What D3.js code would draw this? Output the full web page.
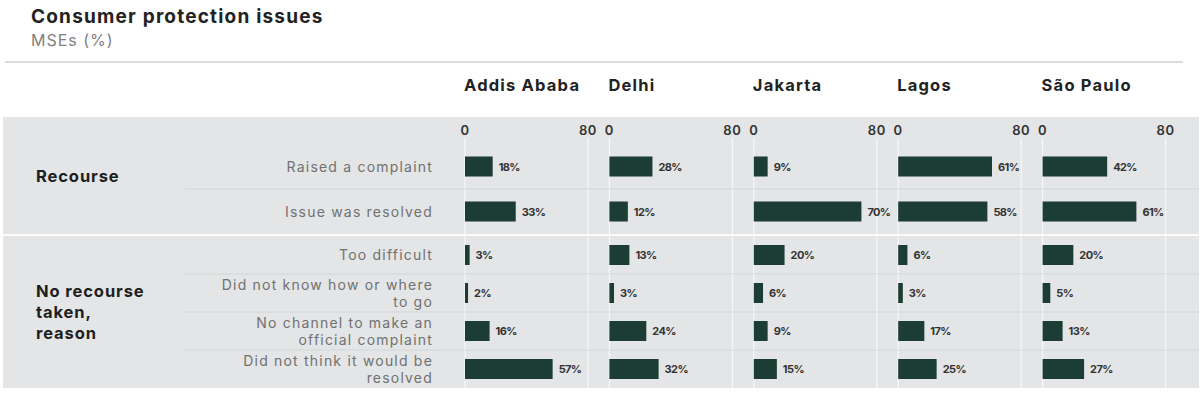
<!DOCTYPE html>
<html>
<head>
<meta charset="utf-8">
<script src="https://cdn.jsdelivr.net/npm/d3@7"></script>
<style>
body { margin: 0; background: #ffffff; }
text { font-family: Inter, "Open Sans", sans-serif; }
</style>
</head>
<body>
<script>

var cities = ["Addis Ababa", "Delhi", "Jakarta", "Lagos", "São Paulo"]
var groups = ["Recourse", "No recourse taken, reason"]
var groupLines = [["Recourse"], ["No recourse", "taken,", "reason"]]

var recourseRows = ["Raised a complaint", "Issue was resolved"]
var recourseLines = [["Raised a complaint"], ["Issue was resolved"]]
var recourseValues = [
	[18, 28, 9, 61, 42],
	[33, 12, 70, 58, 61]]

var reasonRows = ["Too difficult", "Did not know how or where to go", "No channel to make an official complaint", "Did not think it would be resolved"]
var reasonLines = [["Too difficult"], ["Did not know how or where", "to go"], ["No channel to make an", "official complaint"], ["Did not think it would be", "resolved"]]
var reasonValues = [
	[3, 13, 20, 6, 20],
	[2, 3, 6, 3, 5],
	[16, 24, 9, 17, 13],
	[57, 32, 15, 25, 27]]

var xTicks = [0, 80]

window.onload = function () {
	Draw_Chart()
}

function Draw_Chart() {
	var W = 1200, H = 398
	var barColor = "#1b3d34"

	var svg = d3.select("body").append("svg")
		.attr("width", W)
		.attr("height", H)

	//TITLE
	svg.append("text")
		.attr("x", 31).attr("y", 23)
		.style("font-size", "19px").style("font-weight", 700).style("fill", "#222")
		.style("letter-spacing", "1.2px")
		.text("Consumer protection issues")
	svg.append("text")
		.attr("x", 31).attr("y", 46)
		.style("font-size", "16px").style("fill", "#808080")
		.style("letter-spacing", "1px")
		.text("MSEs (%)")
	svg.append("line")
		.attr("x1", 5).attr("x2", 1183).attr("y1", 62).attr("y2", 62)
		.style("stroke", "#dcdcdc").style("stroke-width", 2)

	//PANELS
	var panel = d3.scaleBand().domain(cities).range([465, 1187])
	var x = d3.scaleLinear().domain([0, 80]).range([0, 123])

	var bands = [
		{ rows: recourseRows, lines: recourseLines, values: recourseValues, y0: 144, y1: 234 },
		{ rows: reasonRows, lines: reasonLines, values: reasonValues, y0: 236, y1: 388 }]

	//GRAY BACKGROUND
	svg.append("rect")
		.attr("x", 3).attr("y", 117).attr("width", 1196).attr("height", 388 - 117)
		.style("fill", "#e3e5e6")

	//CITY HEADERS
	svg.selectAll(".city")
		.data(cities)
		.enter()
		.append("text")
		.attr("x", function (d) { return panel(d) - 1 })
		.attr("y", 91)
		.style("font-size", "16.5px").style("font-weight", 700).style("fill", "#222")
		.style("letter-spacing", "1.2px")
		.text(function (d) { return d })

	//GRIDLINES AND TICK LABELS
	cities.forEach(function (c) {
		var g = svg.append("g").attr("transform", "translate(" + panel(c) + ",0)")
		g.selectAll("line")
			.data(xTicks)
			.enter()
			.append("line")
			.attr("x1", function (d) { return x(d) })
			.attr("x2", function (d) { return x(d) })
			.attr("y1", 138).attr("y2", 388)
			.style("stroke", "#f6f7f7").style("stroke-width", 1.3)
		g.selectAll("text")
			.data(xTicks)
			.enter()
			.append("text")
			.attr("x", function (d) { return x(d) })
			.attr("y", 135)
			.attr("text-anchor", "middle")
			.style("font-size", "13px").style("font-weight", 600).style("fill", "#333")
			.style("letter-spacing", "0.6px")
			.text(function (d) { return d })
	})

	//GROUP SEPARATOR
	svg.append("line")
		.attr("x1", 3).attr("x2", 1199).attr("y1", 235).attr("y2", 235)
		.style("stroke", "#fbfbfb").style("stroke-width", 2)

	bands.forEach(function (b, gi) {
		var y = d3.scaleBand().domain(b.rows).range([b.y0, b.y1])

		//ROW SEPARATORS
		svg.selectAll(".sep" + gi)
			.data(b.rows.slice(1))
			.enter()
			.append("line")
			.attr("x1", 185).attr("x2", 1199)
			.attr("y1", function (d) { return y(d) })
			.attr("y2", function (d) { return y(d) })
			.style("stroke", "#d3d6d7").style("stroke-width", 1)

		//ROW LABELS
		var lh = 17
		b.rows.forEach(function (r, ri) {
			var lines = b.lines[ri]
			var cy = y(r) + y.bandwidth() / 2
			svg.append("text")
				.attr("text-anchor", "end")
				.attr("x", 433)
				.attr("y", cy - (lines.length - 1) * lh / 2 + 5)
				.style("font-size", "14px").style("fill", "#717171")
				.style("letter-spacing", "1.2px")
				.selectAll("tspan")
				.data(lines)
				.enter()
				.append("tspan")
				.attr("x", 433)
				.attr("dy", function (d, i) { return i == 0 ? 0 : lh })
				.text(function (d) { return d })
		})

		//GROUP LABEL
		var gl = groupLines[gi]
		var top = gi == 0 ? 117 : b.y0
		var gcy = top + (b.y1 - top) / 2
		svg.append("text")
			.attr("x", 36)
			.attr("y", gcy - (gl.length - 1) * 10.5 + 6)
			.style("font-size", "16.5px").style("font-weight", 700).style("fill", "#1e1e1e")
			.style("letter-spacing", "0.9px")
			.selectAll("tspan")
			.data(gl)
			.enter()
			.append("tspan")
			.attr("x", 36)
			.attr("dy", function (d, i) { return i == 0 ? 0 : 21 })
			.text(function (d) { return d })

		//BARS
		b.rows.forEach(function (r, ri) {
			var cy = y(r) + y.bandwidth() / 2
			var g = svg.append("g")
			g.selectAll("rect")
				.data(b.values[ri])
				.enter()
				.append("rect")
				.attr("x", function (d, i) { return panel(cities[i]) + x(0) })
				.attr("y", cy - 10)
				.attr("width", function (d) { return x(d) - x(0) })
				.attr("height", 20)
				.style("fill", barColor)
			g.selectAll("text")
				.data(b.values[ri])
				.enter()
				.append("text")
				.attr("x", function (d, i) { return panel(cities[i]) + x(d) + 6 })
				.attr("y", cy + 4)
				.style("font-size", "11px").style("font-weight", 700).style("fill", "#333")
				.style("letter-spacing", "-0.6px")
				.text(function (d) { return d + "%" })
		})
	})
}
</script>
</body>
</html>
